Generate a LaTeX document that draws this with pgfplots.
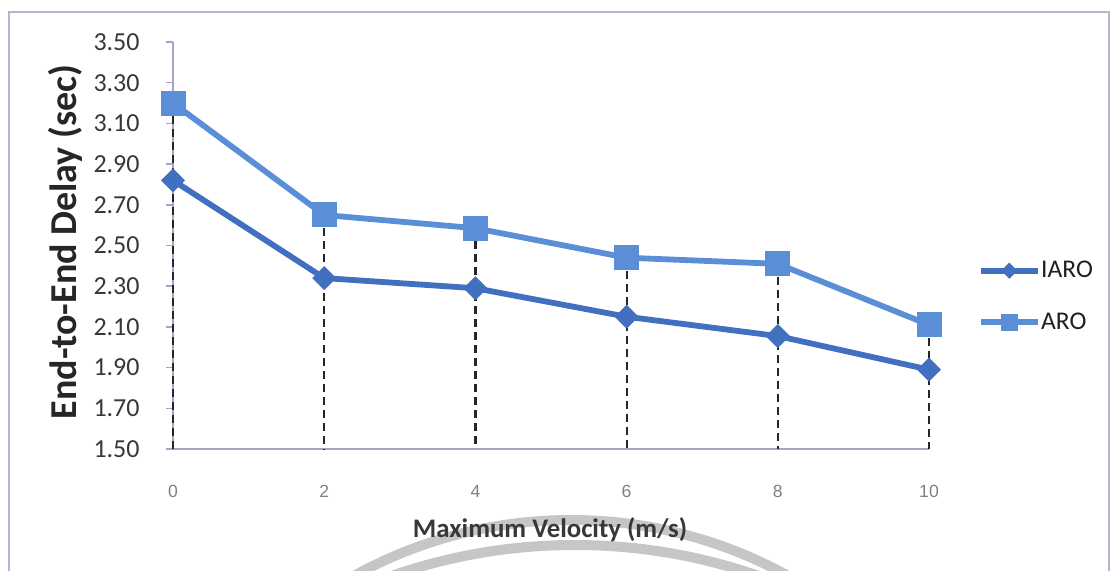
\documentclass[border=0pt]{standalone}
\usepackage{pgfplots}
\pgfplotsset{compat=1.18}
\usepackage{fontspec}
\setmainfont{Carlito}
\newfontfamily\arialfont{Liberation Sans}
\definecolor{iaro}{HTML}{4270C0}
\definecolor{aro}{HTML}{5A8FD8}
\definecolor{axcol}{HTML}{A4A4C8}
\definecolor{frame}{HTML}{B4B6D0}
\definecolor{wm}{HTML}{C6C6C6}
\begin{document}
\begin{tikzpicture}
\path[use as bounding box] (0,0) rectangle (556pt,285pt);
% watermark arcs
\begin{scope}
\clip (0,0) rectangle (556pt,285pt);
\draw[wm, line width=5pt] (285.5pt,-199.5pt) circle (224.5pt);
\draw[wm, line width=5pt] (287.5pt,-266pt) circle (278.5pt);
\end{scope}
% frame
\draw[frame, line width=0.6pt] (4.5pt,-2pt) -- (4.5pt,279pt) -- (554.5pt,279pt) -- (554.5pt,-2pt);
\begin{axis}[
  at={(86.5pt,60.5pt)}, anchor=south west,
  scale only axis, width=378pt, height=203.5pt,
  xmin=0, xmax=10, ymin=1.5, ymax=3.5,
  axis x line*=bottom, axis y line*=left,
  axis line style={axcol, line width=0.75pt},
  xtick={0,2,4,6,8,10},
  ytick={1.5,1.7,1.9,2.1,2.3,2.5,2.7,2.9,3.1,3.3,3.5},
  xtick style={draw=none},
  ytick style={axcol, line width=0.75pt},
  tick align=outside, major tick length=3.5pt,
  /pgf/number format/assume math mode=true,
  yticklabel style={/pgf/number format/.cd, fixed, fixed zerofill, precision=2, /tikz/.cd,
    anchor=east, inner sep=0pt, xshift=-13pt, font=\fontsize{13}{15}\selectfont, text=black!78},
  xticklabel style={anchor=center, inner sep=0pt, yshift=-17.5pt, font=\arialfont\fontsize{8.8}{10}\selectfont, text=black!50},
  xlabel={Maximum Velocity (m/s)},
  xlabel style={at={(axis description cs:0.4987,-0.199)}, anchor=center, font=\bfseries\fontsize{13.4}{15}\selectfont, text=black!78},
  ylabel={End-to-End Delay (sec)},
  ylabel style={at={(axis description cs:-0.1429,0.5086)}, anchor=center, rotate=0, font=\bfseries\fontsize{19}{22}\selectfont, text=black!85},
  clip=false,
  unbounded coords=jump,
  legend style={at={(1.0648,0.3747)}, anchor=west, draw=none, fill=none, inner sep=0pt,
    font=\fontsize{12.75}{15}\selectfont, text=black!88, row sep=16pt,
    nodes={inner sep=0pt}},
  legend cell align=left,
  legend image code/.code={\draw[mark repeat=2,mark phase=2,#1] plot coordinates {(0pt,0pt) (14pt,0pt) (28.5pt,0pt)};},
  legend image post style={every mark/.append style={scale=0.65}},
]
\addplot[iaro, line width=2.9pt, mark=square*, mark size=4pt, mark options={rotate=45, fill=iaro, draw=iaro, line width=0.5pt}]
  coordinates {(0,2.82) (2,2.34) (4,2.29) (6,2.15) (8,2.055) (10,1.89)};
\addlegendentry{IARO}
\addplot[aro, line width=2.9pt, mark=square*, mark size=6pt, mark options={fill=aro, draw=aro, line width=0.5pt}]
  coordinates {(0,3.20) (2,2.65) (4,2.585) (6,2.44) (8,2.41) (10,2.11)};
\addlegendentry{ARO}
% drop lines from the ARO points to the axis
\addplot[black!85, line width=1.1pt, dash pattern=on 4pt off 2.5pt, no marks, forget plot]
  coordinates {(0,3.20) (0,1.5) (0,nan) (2,2.65) (2,1.5) (2,nan) (4,2.585) (4,1.5) (4,nan)
               (6,2.44) (6,1.5) (6,nan) (8,2.41) (8,1.5) (8,nan) (10,2.11) (10,1.5)};
\end{axis}
\end{tikzpicture}
\end{document}
